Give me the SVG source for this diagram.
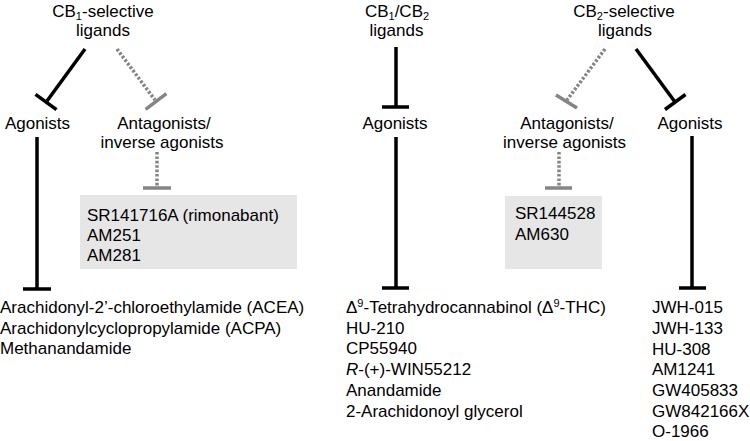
<svg xmlns="http://www.w3.org/2000/svg" width="750" height="441" viewBox="0 0 750 441">
<style>
text{font-family:"Liberation Sans",Arial,sans-serif;font-size:17px;fill:#000}
.c{text-anchor:middle}
.blk{stroke:#000;stroke-width:3.5;fill:none;stroke-linecap:butt}
.gry{stroke:#858585;stroke-width:3.5;fill:none;stroke-linecap:butt}
.dot{stroke:#858585;stroke-width:3.5;fill:none;stroke-dasharray:2.6 1.8}
.box{fill:#e6e6e6}
</style>
<rect width="750" height="441" fill="#fff"/>
<g id="cb1-ligands"><text class="c" x="103" y="16.5">CB<tspan font-size="11" dy="3">1</tspan><tspan dy="-3">-selective</tspan></text><text class="c" x="103" y="36">ligands</text></g>
<g id="cb1-agonists"><text class="c" x="37.5" y="129">Agonists</text></g>
<g id="cb1-antagonists"><text class="c" x="164" y="129">Antagonists/</text><text class="c" x="162" y="148">inverse agonists</text></g>
<g id="cb1-antagonist-list"><rect class="box" x="80" y="195" width="217" height="74"/><text x="87" y="220.5">SR141716A (rimonabant)</text><text x="87" y="240.8">AM251</text><text x="87" y="261">AM281</text></g>
<g id="cb1-agonist-list"><text x="0" y="313">Arachidonyl-2’-chloroethylamide (ACEA)</text><text x="0" y="333.5">Arachidonylcyclopropylamide (ACPA)</text><text x="0" y="353.5">Methanandamide</text></g>
<g id="cb12-ligands"><text class="c" x="397" y="16.5">CB<tspan font-size="11" dy="3">1</tspan><tspan dy="-3">/CB</tspan><tspan font-size="11" dy="3">2</tspan></text><text class="c" x="396.5" y="36">ligands</text></g>
<g id="cb12-agonists"><text class="c" x="395" y="129">Agonists</text></g>
<g id="cb12-agonist-list"><text x="346" y="313">Δ<tspan font-size="11" dy="-6">9</tspan><tspan dy="6">-Tetrahydrocannabinol (Δ</tspan><tspan font-size="11" dy="-6">9</tspan><tspan dy="6">-THC)</tspan></text><text x="346" y="333.7">HU-210</text><text x="346" y="354.4">CP55940</text><text x="346" y="375.1"><tspan font-style="italic">R</tspan>-(+)-WIN55212</text><text x="346" y="395.8">Anandamide</text><text x="346" y="416.5">2-Arachidonoyl glycerol</text></g>
<g id="cb2-ligands"><text class="c" x="624" y="16.5">CB<tspan font-size="11" dy="3">2</tspan><tspan dy="-3">-selective</tspan></text><text class="c" x="625" y="36">ligands</text></g>
<g id="cb2-antagonists"><text class="c" x="567" y="129">Antagonists/</text><text class="c" x="564.5" y="148">inverse agonists</text></g>
<g id="cb2-agonists"><text class="c" x="690" y="129">Agonists</text></g>
<g id="cb2-antagonist-list"><rect class="box" x="505" y="196" width="97" height="73"/><text x="515" y="219">SR144528</text><text x="515" y="239.5">AM630</text></g>
<g id="cb2-agonist-list"><text x="652" y="313.3">JWH-015</text><text x="652" y="334">JWH-133</text><text x="652" y="354.6">HU-308</text><text x="652" y="375.3">AM1241</text><text x="652" y="396">GW405833</text><text x="652" y="416.6">GW842166X</text><text x="652" y="437.3">O-1966</text></g>
<g id="connectors">
<line class="blk" x1="85" y1="49" x2="47" y2="101"/><line class="blk" x1="35.5" y1="94.3" x2="56.5" y2="109.7"/>
<line class="dot" x1="117" y1="49" x2="155" y2="100"/><line class="gry" x1="145.6" y1="109.3" x2="166.4" y2="93.7"/>
<line class="blk" x1="37" y1="137" x2="37" y2="289"/><line class="blk" x1="23" y1="289" x2="51" y2="289"/>
<line class="dot" x1="157" y1="152" x2="157" y2="186"/><line class="gry" x1="143" y1="188" x2="171" y2="188"/>
<line class="blk" x1="396" y1="47" x2="396" y2="107"/><line class="blk" x1="382" y1="107" x2="409" y2="107"/>
<line class="blk" x1="396" y1="137" x2="396" y2="288"/><line class="blk" x1="382" y1="288" x2="409" y2="288"/>
<line class="dot" x1="605" y1="49" x2="567" y2="100"/><line class="gry" x1="556" y1="95" x2="577" y2="108"/>
<line class="blk" x1="636" y1="49" x2="675" y2="102"/><line class="blk" x1="665" y1="109.5" x2="685.5" y2="94.5"/>
<line class="dot" x1="559" y1="152" x2="559" y2="186"/><line class="gry" x1="545" y1="188" x2="572" y2="188"/>
<line class="blk" x1="692" y1="136" x2="692" y2="288"/><line class="blk" x1="679" y1="288" x2="706" y2="288"/>
</g>
</svg>
